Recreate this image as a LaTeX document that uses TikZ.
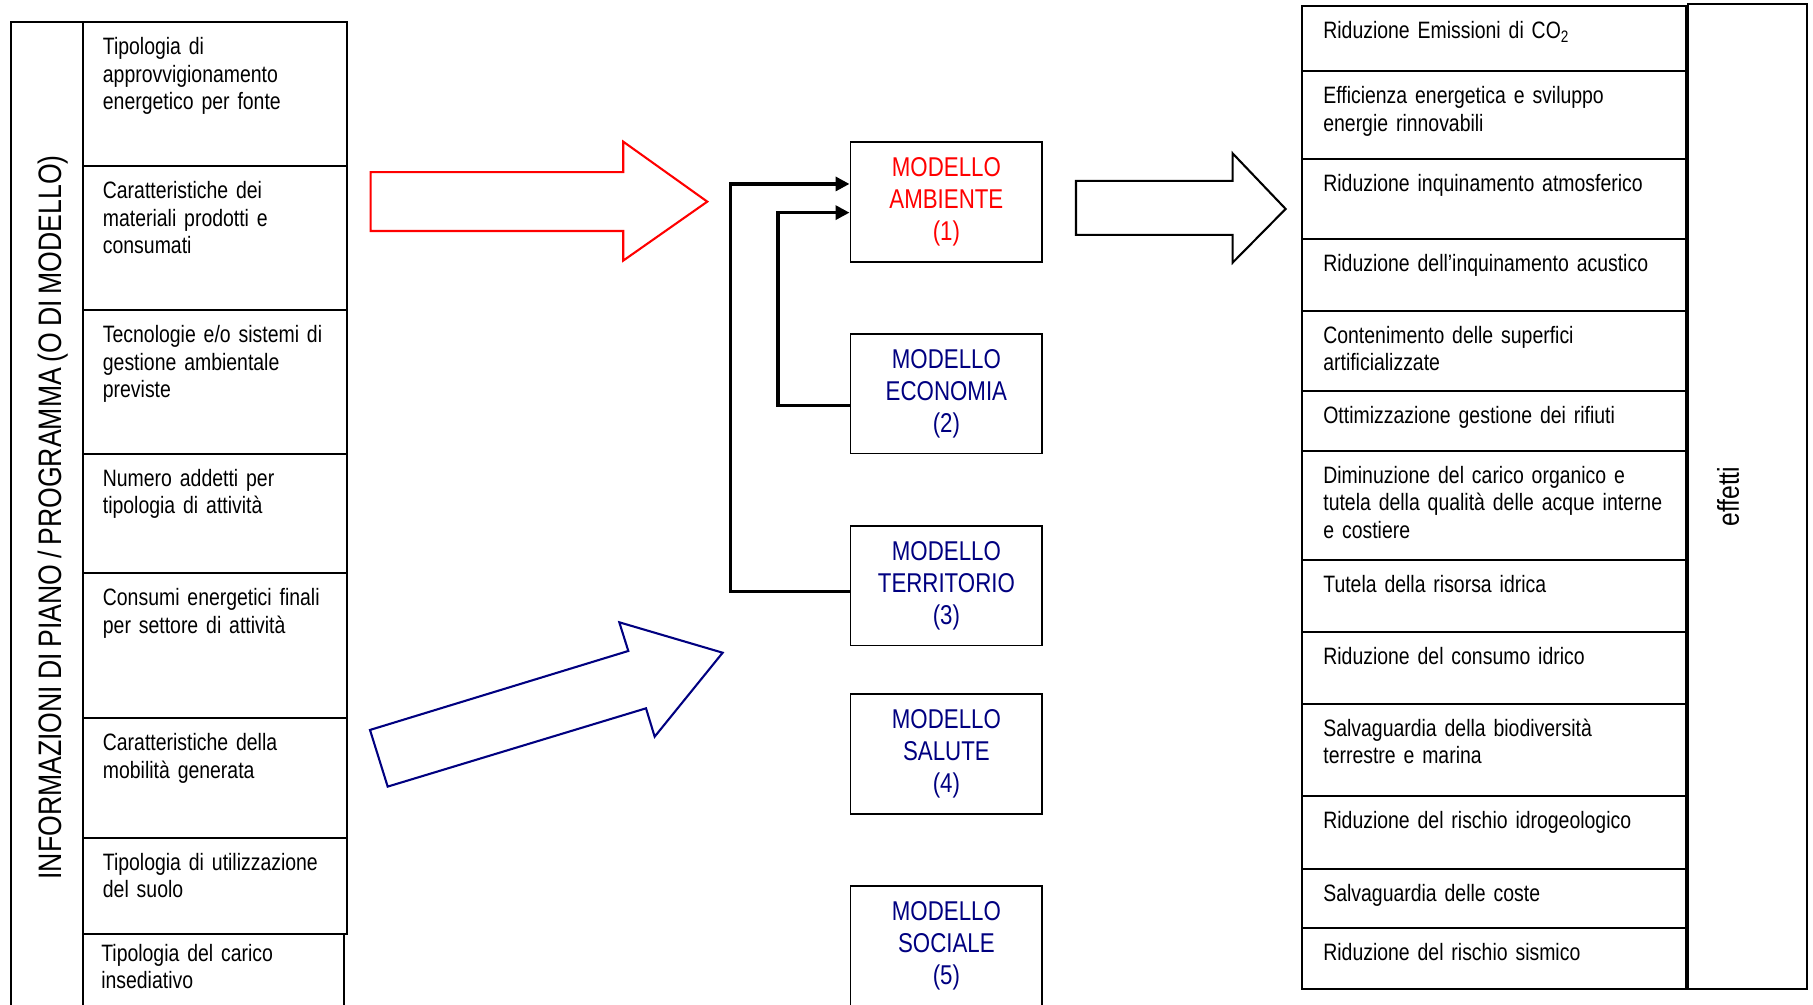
\documentclass[tikz,border=0pt]{standalone}
\usepackage{fontspec}
\setmainfont{Liberation Sans}[FakeStretch=0.82, WordSpace=0.78]
\usetikzlibrary{positioning, arrows.meta}
\definecolor{ambred}{RGB}{255, 0, 0}
\definecolor{modblue}{RGB}{0, 0, 128}
\tikzset{
  inrow/.style={draw, line width=1.6pt, anchor=north west, inner xsep=17.2pt, inner ysep=0pt,
                outer sep=0pt, text width=193.8pt, align=left, text height=28.4pt,
                font=\fontsize{20.5pt}{23.7pt}\selectfont},
  outrow/.style={inrow, inner xsep=18.7pt, text width=294.8pt, text height=28.2pt},
  column/.style={draw, line width=1.6pt, anchor=north west, inner sep=0pt, outer sep=0pt},
  model/.style={draw, line width=1.6pt, minimum width=166pt, minimum height=103.5pt,
                align=center, text=modblue, font=\fontsize{23.5pt}{27.5pt}\selectfont},
  sidelabel/.style={rotate=90, inner sep=0pt},
  link/.style={line width=2.9pt, -{Triangle[length=12pt, width=12pt]}},
  bigarrow/.style={line width=1.8pt},
}

\begin{document}
\begin{tikzpicture}[x=1pt, y=-1pt]
  \useasboundingbox (0,0) rectangle (1568,869);

  % informazioni di piano
  \node[column, minimum width=62.3pt, minimum height=880pt] (info) at (9.5,19) {};
  \node[sidelabel, font=\fontsize{28.1pt}{30pt}\selectfont] (infotxt) at (46,447.5)
    {INFORMAZIONI DI PIANO / PROGRAMMA (O DI MODELLO)};

  \node[inrow, text depth=96.1pt] (in1) at (71.8,19) {Tipologia di\\approvvigionamento\\energetico per fonte};
  \node[inrow, text depth=96pt] (in2) at (in1.south west) {Caratteristiche dei\\materiali prodotti e\\consumati};
  \node[inrow, text depth=96.1pt] (in3) at (in2.south west) {Tecnologie e/o sistemi di\\gestione ambientale\\previste};
  \node[inrow, text depth=74.6pt] (in4) at (in3.south west) {Numero addetti per\\tipologia di attività};
  \node[inrow, text depth=97pt] (in5) at (in4.south west) {Consumi energetici finali\\per settore di attività};
  \node[inrow, text depth=75.2pt] (in6) at (in5.south west) {Caratteristiche della\\mobilità generata};
  \node[inrow, text depth=54.8pt] (in7) at (in6.south west) {Tipologia di utilizzazione\\del suolo};
  \node[inrow, inner xsep=15.8pt, text width=194.1pt, text height=24pt, text depth=60pt] (in8)
    at (in7.south west) {Tipologia del carico\\insediativo};

  % modelli
  \node[model, text=ambred] (amb) at (818.5,174.5) {MODELLO\\AMBIENTE\\(1)};
  \node[model] (eco) at (818.5,340.5) {MODELLO\\ECONOMIA\\(2)};
  \node[model] (ter) at (818.5,506.5) {MODELLO\\TERRITORIO\\(3)};
  \node[model] (sal) at (818.5,652) {MODELLO\\SALUTE\\(4)};
  \node[model] (soc) at (818.5,818) {MODELLO\\SOCIALE\\(5)};

  \draw[link] ([yshift=-5.2pt]ter.west) -- ++(-102.7,0) |- ([yshift=15.4pt]amb.west);
  \draw[link] ([yshift=-10.3pt]eco.west) -- ++(-61.8,0) |- ([yshift=-9.4pt]amb.west);

  % frecce
  \draw[bigarrow, ambred] (320.6,148.8) -- (539,148.8) -- (539,122.5) -- (611.7,174.4)
    -- (539,225.4) -- (539,199.8) -- (320.6,199.8) -- cycle;
  \draw[bigarrow, modblue] (320,631.3) -- (543.4,563) -- (535.6,538.2) -- (625,564.5)
    -- (566.2,637.1) -- (558.7,612.6) -- (335.3,680.3) -- cycle;
  \draw[bigarrow] (930.6,156.5) -- (1066,156.5) -- (1066,132.6) -- (1111.9,180.7)
    -- (1066,227.2) -- (1066,203.2) -- (930.6,203.2) -- cycle;

  % effetti
  \node[outrow, text depth=28pt] (out1) at (1125.8,5.2) {Riduzione Emissioni di CO\textsubscript{2}};
  \node[outrow, text depth=47.9pt] (out2) at (out1.south west) {Efficienza energetica e sviluppo\\energie rinnovabili};
  \node[outrow, text depth=41.3pt] (out3) at (out2.south west) {Riduzione inquinamento atmosferico};
  \node[outrow, text depth=33.5pt] (out4) at (out3.south west) {Riduzione dell'inquinamento acustico};
  \node[outrow, text depth=41pt] (out5) at (out4.south west) {Contenimento delle superfici\\artificializzate};
  \node[outrow, text depth=23.7pt] (out6) at (out5.south west) {Ottimizzazione gestione dei rifiuti};
  \node[outrow, text depth=66.3pt] (out7) at (out6.south west) {Diminuzione del carico organico e\\tutela della qualità delle acque interne\\e costiere};
  \node[outrow, text depth=33.8pt] (out8) at (out7.south west) {Tutela della risorsa idrica};
  \node[outrow, text depth=34.3pt] (out9) at (out8.south west) {Riduzione del consumo idrico};
  \node[outrow, text depth=51.4pt] (out10) at (out9.south west) {Salvaguardia della biodiversità\\terrestre e marina};
  \node[outrow, text depth=34.9pt] (out11) at (out10.south west) {Riduzione del rischio idrogeologico};
  \node[outrow, text depth=22.6pt] (out12) at (out11.south west) {Salvaguardia delle coste};
  \node[outrow, text depth=24.8pt] (out13) at (out12.south west) {Riduzione del rischio sismico};

  \node[column, minimum width=103pt, minimum height=852pt] (eff) at (1459.8,3.5) {};
  \node[sidelabel, font=\fontsize{26pt}{28pt}\selectfont] (efftxt) at (1494.5,429.5) {effetti};
\end{tikzpicture}
\end{document}
